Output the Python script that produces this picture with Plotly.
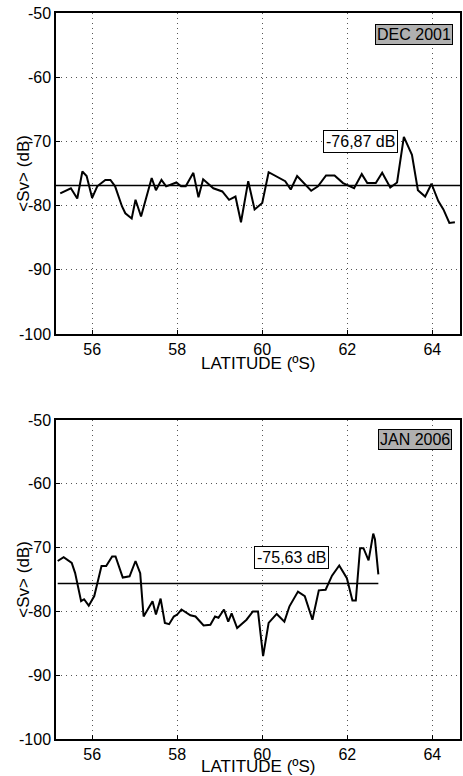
import plotly.graph_objects as go

# ---- data ----
dec_lat = [55.25, 55.5, 55.65, 55.77, 55.87, 56.0, 56.12, 56.31, 56.43, 56.54, 56.7, 56.78, 56.93,
           57.02, 57.15, 57.4, 57.5, 57.63, 57.74, 57.98, 58.09, 58.2, 58.38, 58.5, 58.61, 58.85,
           59.06, 59.22, 59.37, 59.5, 59.67, 59.82, 60.0, 60.15, 60.54, 60.67, 60.82, 61.15, 61.31,
           61.5, 61.7, 61.9, 62.16, 62.34, 62.47, 62.67, 62.82, 63.01, 63.17, 63.33, 63.52, 63.66,
           63.83, 63.98, 64.14, 64.26, 64.4, 64.53]
dec_sv = [-78.1, -77.3, -78.9, -74.7, -75.4, -78.8, -77.0, -76.0, -76.0, -77.0, -80.1, -81.2, -82.0,
          -79.1, -81.7, -75.7, -77.6, -76.0, -77.0, -76.4, -77.0, -77.0, -74.9, -78.7, -75.9, -77.3,
          -77.8, -79.1, -78.6, -82.6, -76.2, -80.6, -79.6, -74.8, -76.2, -77.5, -75.4, -77.7, -77.0,
          -75.3, -75.3, -76.5, -77.3, -75.1, -76.5, -76.5, -74.9, -77.2, -76.4, -69.3, -72.1, -77.6,
          -78.6, -76.6, -79.3, -80.6, -82.7, -82.6]
dec_mean = -76.87

jan_lat = [55.19, 55.33, 55.52, 55.6, 55.74, 55.81, 55.92, 56.05, 56.22, 56.33, 56.47, 56.55, 56.72,
           56.88, 57.02, 57.13, 57.21, 57.42, 57.5, 57.61, 57.71, 57.81, 57.92, 58.0, 58.1, 58.31,
           58.43, 58.62, 58.78, 58.89, 58.97, 59.1, 59.2, 59.28, 59.41, 59.63, 59.78, 59.9, 60.02,
           60.15, 60.34, 60.52, 60.64, 60.84, 61.0, 61.18, 61.33, 61.49, 61.64, 61.81, 61.99, 62.12,
           62.2, 62.3, 62.38, 62.5, 62.61, 62.65, 62.73]
jan_sv = [-72.1, -71.5, -72.4, -74.0, -78.4, -78.1, -79.1, -77.6, -72.9, -72.9, -71.4, -71.4, -74.7,
          -74.5, -72.1, -74.0, -80.8, -78.4, -80.5, -78.0, -81.8, -82.0, -80.8, -80.5, -79.7, -80.6,
          -80.8, -82.2, -82.1, -80.8, -81.0, -79.7, -81.6, -80.3, -82.6, -81.3, -80.0, -80.0, -87.0,
          -81.8, -80.4, -81.6, -79.2, -76.9, -77.6, -81.3, -76.7, -76.6, -74.4, -72.8, -74.8, -78.3,
          -78.3, -70.1, -70.1, -72.0, -67.8, -68.7, -74.2]
jan_mean = -75.63

x_ticks = [56, 58, 60, 62, 64]
x_ticktext = ["56", "58", "60", "62", "64"]
y_ticks = [-100, -90, -80, -70, -60, -50]
y_ticktext = ["-100", "-90", "-80", "-70", "-60", "-50"]
x_range = [55.15, 64.65]
y_range = [-100, -50]

FONT = "Liberation Sans, Arial, sans-serif"

fig = go.Figure()

# data lines
fig.add_trace(go.Scatter(x=dec_lat, y=dec_sv, mode="lines", line=dict(color="black", width=2),
                         xaxis="x", yaxis="y", showlegend=False, hoverinfo="skip"))
fig.add_trace(go.Scatter(x=jan_lat, y=jan_sv, mode="lines", line=dict(color="black", width=2),
                         xaxis="x2", yaxis="y2", showlegend=False, hoverinfo="skip"))
# mean lines
fig.add_trace(go.Scatter(x=x_range, y=[dec_mean, dec_mean], mode="lines",
                         line=dict(color="black", width=1.5), xaxis="x", yaxis="y",
                         showlegend=False, hoverinfo="skip"))
fig.add_trace(go.Scatter(x=[jan_lat[0], jan_lat[-1]], y=[jan_mean, jan_mean], mode="lines",
                         line=dict(color="black", width=1.5), xaxis="x2", yaxis="y2",
                         showlegend=False, hoverinfo="skip"))

axis_common = dict(showline=True, linecolor="black", linewidth=1.5, mirror=True,
                   ticks="inside", ticklen=4, tickcolor="black",
                   showgrid=True, gridcolor="#555555", griddash="1px,4px", gridwidth=1,
                   zeroline=False, tickfont=dict(family=FONT, size=16, color="black"))

fig.update_layout(
    width=463, height=776,
    margin=dict(l=56, r=1, t=13, b=37),
    paper_bgcolor="white", plot_bgcolor="white",
    font=dict(family=FONT, color="black"),
    xaxis=dict(domain=[0, 1], anchor="y", range=x_range, tickvals=x_ticks, ticktext=x_ticktext, **axis_common),
    yaxis=dict(domain=[0.5579, 1], anchor="x", range=y_range, tickvals=y_ticks, ticktext=y_ticktext, **axis_common),
    xaxis2=dict(domain=[0, 1], anchor="y2", range=x_range, tickvals=x_ticks, ticktext=x_ticktext, **axis_common),
    yaxis2=dict(domain=[0, 0.4394], anchor="x2", range=y_range, tickvals=y_ticks, ticktext=y_ticktext, **axis_common),
)

ann = []
# axis titles
ann.append(dict(text="LATITUDE (ºS)", xref="paper", yref="paper", x=0.5, y=(776 - 37 - 363) / 726,
                xanchor="center", yanchor="middle", showarrow=False,
                font=dict(family=FONT, size=17, color="black")))
ann.append(dict(text="LATITUDE (ºS)", xref="paper", yref="paper", x=0.5, y=(776 - 37 - 766) / 726,
                xanchor="center", yanchor="middle", showarrow=False,
                font=dict(family=FONT, size=17, color="black")))
ann.append(dict(text="&lt;Sv&gt; (dB)", xref="paper", yref="paper", x=(23 - 56) / 406,
                y=(0.5579 + 1) / 2, textangle=-90, xanchor="center", yanchor="middle",
                showarrow=False, font=dict(family=FONT, size=17, color="black")))
ann.append(dict(text="&lt;Sv&gt; (dB)", xref="paper", yref="paper", x=(23 - 56) / 406,
                y=0.4394 / 2, textangle=-90, xanchor="center", yanchor="middle",
                showarrow=False, font=dict(family=FONT, size=17, color="black")))

# mean value boxes
ann.append(dict(text="-76,87 dB", xref="x", yref="y", x=62.30, y=-70.0, showarrow=False,
                bgcolor="white", bordercolor="black", borderwidth=1, borderpad=2,
                font=dict(family=FONT, size=16, color="black")))
ann.append(dict(text="-75,63 dB", xref="x2", yref="y2", x=60.69, y=-71.5, showarrow=False,
                bgcolor="white", bordercolor="black", borderwidth=1, borderpad=2,
                font=dict(family=FONT, size=16, color="black")))

# period labels
ann.append(dict(text="DEC 2001", xref="x", yref="y", x=63.57, y=-53.35, showarrow=False,
                bgcolor="#b0b0b0", bordercolor="black", borderwidth=1, borderpad=1,
                font=dict(family=FONT, size=16, color="black")))
ann.append(dict(text="JAN 2006", xref="x2", yref="y2", x=63.58, y=-53.06, showarrow=False,
                bgcolor="#b0b0b0", bordercolor="black", borderwidth=1, borderpad=1,
                font=dict(family=FONT, size=16, color="black")))

fig.update_layout(annotations=ann)

fig.write_html("out.html", config={"displayModeBar": False},
               post_script="document.body.style.margin='0';document.body.style.overflow='hidden';")
